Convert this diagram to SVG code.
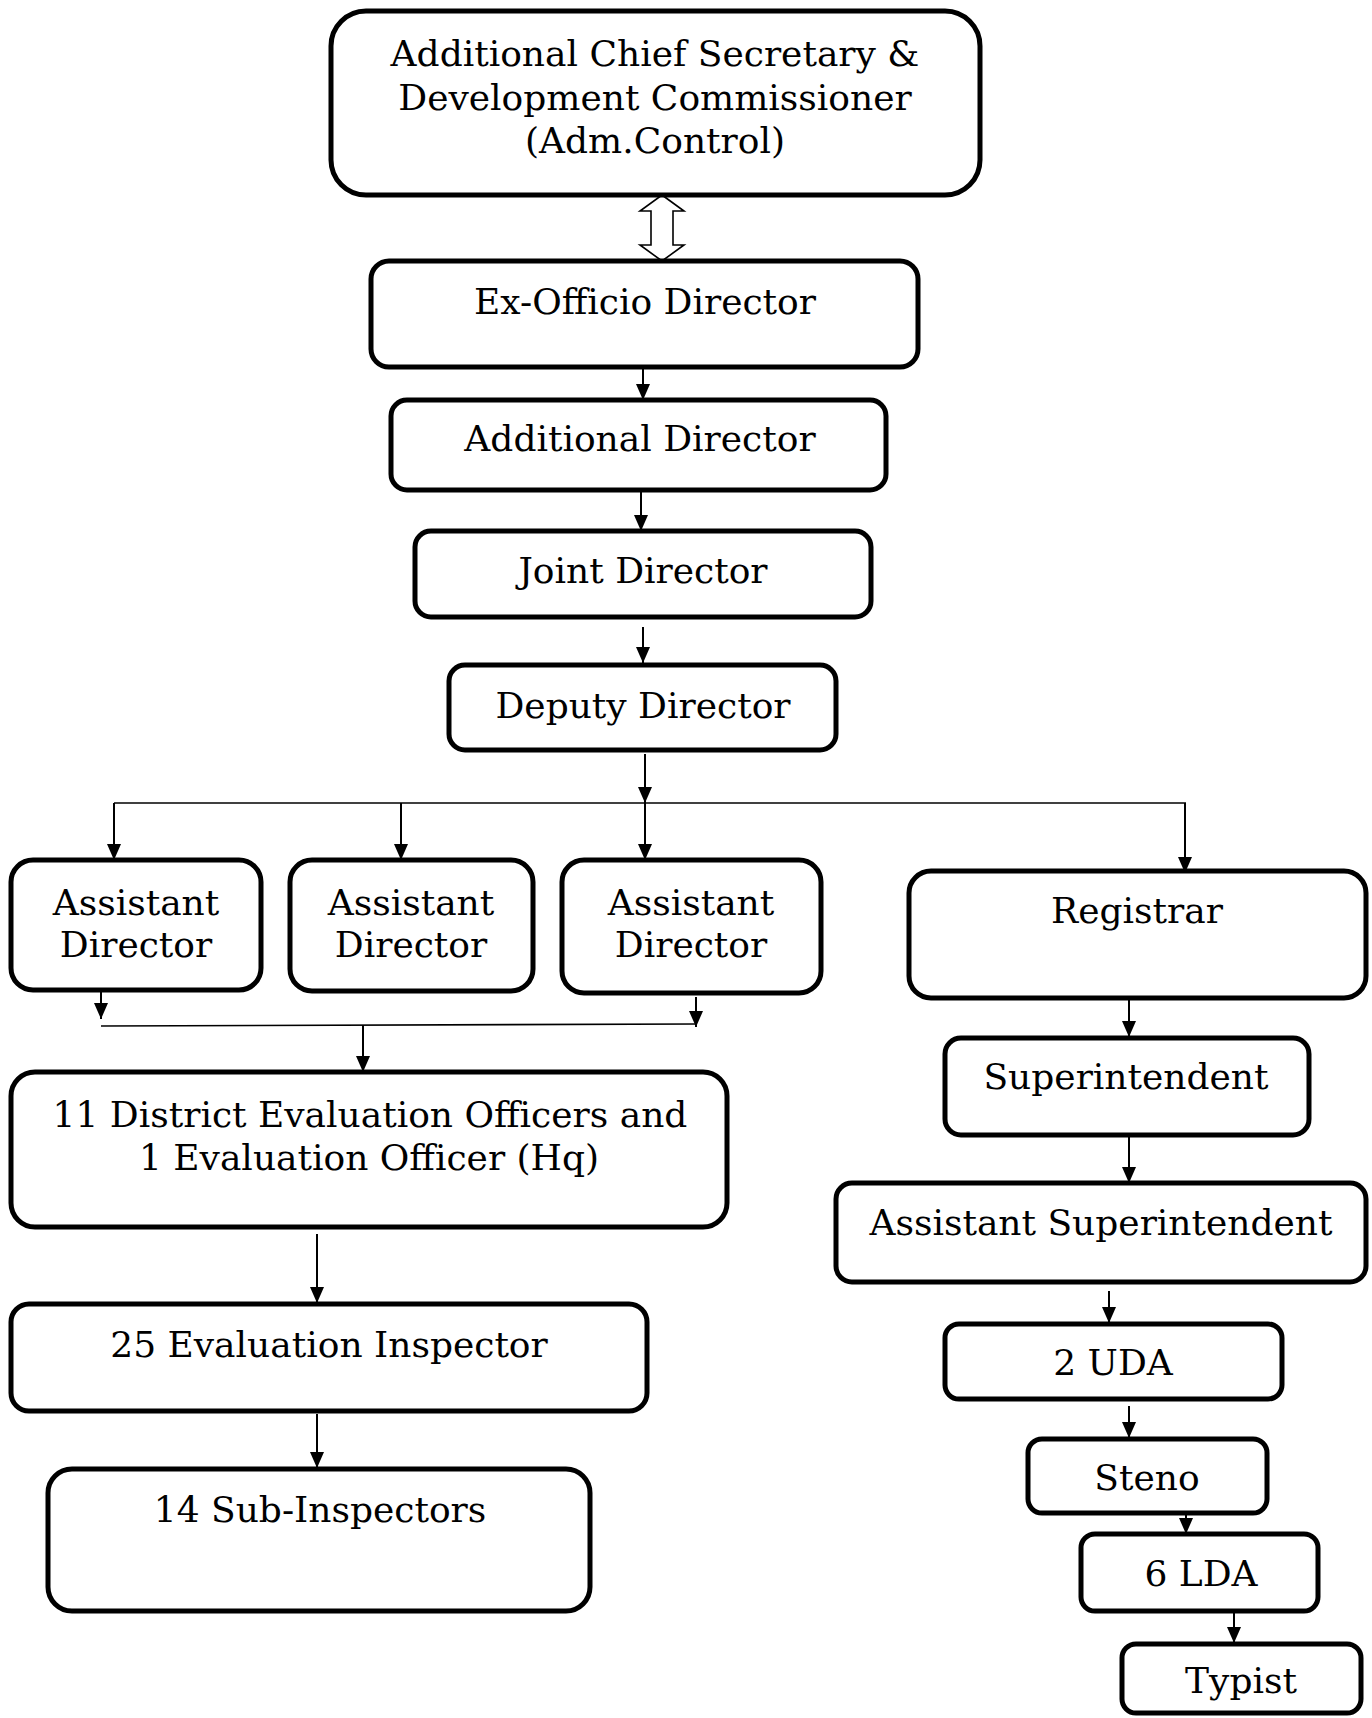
<svg xmlns="http://www.w3.org/2000/svg" width="1372" height="1718" viewBox="0 0 1372 1718">
<style>
.box{fill:#fff;stroke:#000;stroke-width:5}
.t{font-family:"DejaVu Serif","Liberation Serif",serif;font-size:36px;text-anchor:middle;fill:#000}
.c{stroke:#000;stroke-width:2;fill:none}
.h{stroke:#000;stroke-width:1.6;fill:none}
</style>
<defs>
<marker id="a" markerUnits="userSpaceOnUse" markerWidth="16" markerHeight="14" refX="16" refY="7" orient="auto" viewBox="0 0 16 14">
<path d="M0,0 L16,7 L0,14 Z" fill="#000"/>
</marker>
</defs>
<rect width="1372" height="1718" fill="#fff"/>
<g id="connectors">
<path d="M662,195 L684,211 L673,211 L673,245 L684,245 L662,261 L640,245 L651,245 L651,211 L640,211 Z" fill="#fff" stroke="#000" stroke-width="1.6"/>
<line class="c" x1="643" y1="367" x2="643" y2="400" marker-end="url(#a)"/>
<line class="c" x1="641" y1="490" x2="641" y2="531" marker-end="url(#a)"/>
<line class="c" x1="643" y1="627" x2="643" y2="663" marker-end="url(#a)"/>
<line class="c" x1="645" y1="754" x2="645" y2="803" marker-end="url(#a)"/>
<line class="h" x1="114" y1="803" x2="1186" y2="803"/>
<line class="c" x1="114" y1="803" x2="114" y2="860" marker-end="url(#a)"/>
<line class="c" x1="401" y1="803" x2="401" y2="860" marker-end="url(#a)"/>
<line class="c" x1="645" y1="803" x2="645" y2="860" marker-end="url(#a)"/>
<line class="c" x1="1185" y1="803" x2="1185" y2="873" marker-end="url(#a)"/>
<line class="c" x1="101" y1="992" x2="101" y2="1019" marker-end="url(#a)"/>
<line class="c" x1="696" y1="997" x2="696" y2="1027" marker-end="url(#a)"/>
<line class="h" x1="101" y1="1026" x2="696" y2="1024"/>
<line class="c" x1="363" y1="1025" x2="363" y2="1072" marker-end="url(#a)"/>
<line class="c" x1="317" y1="1234" x2="317" y2="1303" marker-end="url(#a)"/>
<line class="c" x1="317" y1="1414" x2="317" y2="1468" marker-end="url(#a)"/>
<line class="c" x1="1129" y1="998" x2="1129" y2="1037" marker-end="url(#a)"/>
<line class="c" x1="1129" y1="1135" x2="1129" y2="1183" marker-end="url(#a)"/>
<line class="c" x1="1109" y1="1291" x2="1109" y2="1323" marker-end="url(#a)"/>
<line class="c" x1="1129" y1="1406" x2="1129" y2="1438" marker-end="url(#a)"/>
<line class="c" x1="1186" y1="1513" x2="1186" y2="1534" marker-end="url(#a)"/>
<line class="c" x1="1234" y1="1613" x2="1234" y2="1643" marker-end="url(#a)"/>
</g>
<g id="n-acs"><rect class="box" x="331" y="11" width="649" height="184" rx="35"/>
<text class="t" x="655" y="66">Additional Chief Secretary &amp;</text>
<text class="t" x="655" y="110">Development Commissioner</text>
<text class="t" x="655" y="153">(Adm.Control)</text></g>
<g id="n-exofficio"><rect class="box" x="371" y="261" width="547" height="106" rx="18"/>
<text class="t" x="645" y="314">Ex-Officio Director</text></g>
<g id="n-addl"><rect class="box" x="391" y="400" width="495" height="90" rx="16"/>
<text class="t" x="640" y="451">Additional Director</text></g>
<g id="n-joint"><rect class="box" x="415" y="531" width="456" height="86" rx="16"/>
<text class="t" x="643" y="583">Joint Director</text></g>
<g id="n-deputy"><rect class="box" x="449" y="665" width="387" height="85" rx="16"/>
<text class="t" x="643" y="718">Deputy Director</text></g>
<g id="n-ad1"><rect class="box" x="11" y="860" width="250" height="130" rx="22"/>
<text class="t" x="136" y="915">Assistant</text><text class="t" x="136" y="957">Director</text></g>
<g id="n-ad2"><rect class="box" x="290" y="860" width="243" height="131" rx="22"/>
<text class="t" x="411" y="915">Assistant</text><text class="t" x="411" y="957">Director</text></g>
<g id="n-ad3"><rect class="box" x="562" y="860" width="259" height="133" rx="22"/>
<text class="t" x="691" y="915">Assistant</text><text class="t" x="691" y="957">Director</text></g>
<g id="n-registrar"><rect class="box" x="909" y="871" width="457" height="127" rx="22"/>
<text class="t" x="1137" y="923">Registrar</text></g>
<g id="n-deo"><rect class="box" x="11" y="1072" width="716" height="155" rx="24"/>
<text class="t" x="370" y="1127">11 District Evaluation Officers and</text>
<text class="t" x="369" y="1170">1 Evaluation Officer (Hq)</text></g>
<g id="n-ei"><rect class="box" x="11" y="1304" width="636" height="107" rx="18"/>
<text class="t" x="329" y="1357">25 Evaluation Inspector</text></g>
<g id="n-si"><rect class="box" x="48" y="1469" width="542" height="142" rx="24"/>
<text class="t" x="320" y="1522">14 Sub-Inspectors</text></g>
<g id="n-super"><rect class="box" x="945" y="1038" width="364" height="97" rx="16"/>
<text class="t" x="1126" y="1089">Superintendent</text></g>
<g id="n-asup"><rect class="box" x="836" y="1183" width="530" height="99" rx="16"/>
<text class="t" x="1101" y="1235">Assistant Superintendent</text></g>
<g id="n-uda"><rect class="box" x="945" y="1324" width="337" height="75" rx="14"/>
<text class="t" x="1113" y="1375">2 UDA</text></g>
<g id="n-steno"><rect class="box" x="1028" y="1439" width="239" height="74" rx="14"/>
<text class="t" x="1147" y="1490">Steno</text></g>
<g id="n-lda"><rect class="box" x="1081" y="1534" width="237" height="77" rx="14"/>
<text class="t" x="1201" y="1586">6 LDA</text></g>
<g id="n-typist"><rect class="box" x="1122" y="1644" width="239" height="69" rx="14"/>
<text class="t" x="1241" y="1693">Typist</text></g>
</svg>
